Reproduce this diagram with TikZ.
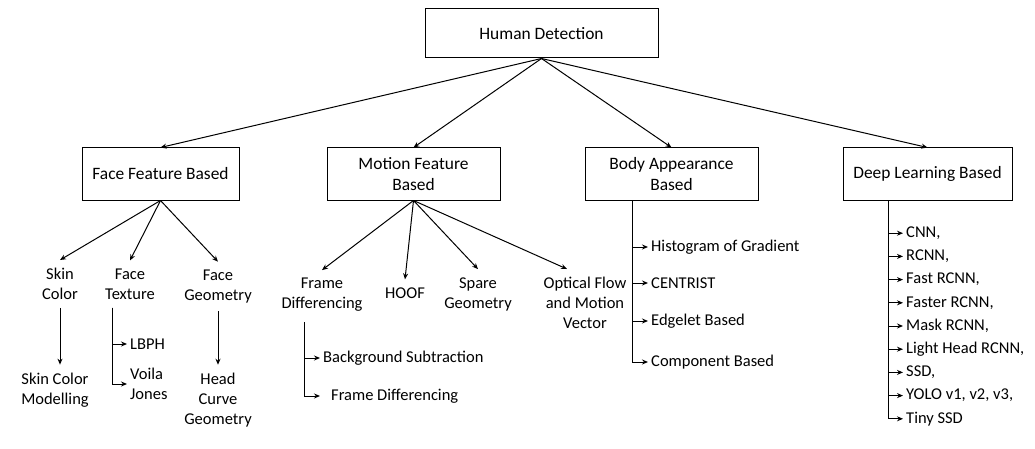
\documentclass[tikz,border=0pt]{standalone}
\usepackage{fontspec}
\setmainfont{Carlito}
\usetikzlibrary{arrows.meta}
\newcommand{\labsize}{\fontsize{16.5pt}{20pt}\selectfont}
\newcommand{\boxsize}{\fontsize{17.4pt}{21pt}\selectfont}
\tikzset{
  box/.style={draw=black, line width=1pt, align=center, font=\boxsize, minimum height=52pt, inner sep=2pt},
  leaf/.style={align=center, font=\labsize, inner xsep=3pt, inner ysep=8pt},
  item/.style={anchor=west, align=left, font=\labsize, inner sep=3pt},
  link/.style={draw=black, line width=1pt, -{Stealth[length=6pt,width=5pt]}},
}

\begin{document}
\begin{tikzpicture}[x=1pt,y=-1pt]
  \useasboundingbox (0,0) rectangle (1035,449);
  % root and the four families
  \node[box, minimum width=233pt, minimum height=49pt] (hd) at (541.5,33.5) {Human Detection};
  \node[box, minimum width=157pt] (face) at (160.5,174) {Face Feature Based};
  \node[box, minimum width=173pt] (motion) at (413.5,174) {Motion Feature\\Based};
  \node[box, minimum width=173pt] (body) at (671.5,174) {Body Appearance\\Based};
  \node[box, minimum width=169pt] (deep) at (927.5,174) {Deep Learning Based};
  \foreach \X in {face,motion,body,deep}
    \draw[link] (hd.south) -- (\X.north);

  % face feature based
  \node[leaf] (skin) at (60,284) {Skin\\Color};
  \node[leaf] (texture) at (130,284) {Face\\Texture};
  \node[leaf] (fgeo) at (218,286.5) {Face\\Geometry};
  \foreach \X in {skin,texture,fgeo}
    \draw[link] (face.south) -- (\X.north);
  \node[leaf] (skinmod) at (55,390) {Skin Color\\Modelling};
  \draw[link] (skin.south) -- (skin.south |- skinmod.north);
  \node[leaf] (head) at (218,400) {Head\\Curve\\Geometry};
  \draw[link] (fgeo.south) -- (fgeo.south |- head.north);
  \coordinate (texdrop) at ([xshift=-18pt]texture.south);
  \node[item] (lbph) at (127,344) {LBPH};
  \node[item] (voila) at (127,384) {Voila\\Jones};
  \foreach \X in {lbph,voila}
    \draw[link] (texdrop) |- (\X.west);

  % motion feature based
  \node[leaf] (framediff) at (322,295) {Frame\\Differencing};
  \node[leaf] (hoof) at (405,293) {HOOF};
  \node[leaf] (spare) at (478,294) {Spare\\Geometry};
  \node[leaf] (optical) at (585,303) {Optical Flow\\and Motion\\Vector};
  \foreach \X in {framediff,hoof,spare}
    \draw[link] (motion.south) -- (\X.north);
  \draw[link] (motion.south) -- ([xshift=-18pt]optical.north);
  \coordinate (fddrop) at (304,322);
  \node[item] (bgsub) at (320,358) {Background Subtraction};
  \node[item, inner xsep=11pt] (fdiff) at (320,396) {Frame Differencing};
  \foreach \X in {bgsub,fdiff}
    \draw[link] (fddrop) |- (\X.west);

  % body appearance based
  \coordinate (bodydrop) at ([xshift=-39pt]body.south);
  \foreach \Y/\name/\txt in {247/hog/Histogram of Gradient, 283/centrist/CENTRIST,
      321/edgelet/Edgelet Based, 362/component/Component Based} {
    \node[item] (\name) at (648,\Y) {\txt};
    \draw[link] (bodydrop) |- (\name.west);
  }

  % deep learning based
  \coordinate (deepdrop) at ([xshift=-39pt]deep.south);
  \foreach \txt [count=\i] in {{CNN,},{RCNN,},{Fast RCNN,},{Faster RCNN,},{Mask RCNN,},
      {Light Head RCNN,},{SSD,},{YOLO v1, v2, v3,},{Tiny SSD}} {
    \node[item] (dl\i) at (903,{210+23.2*\i}) {\txt};
    \draw[link] (deepdrop) |- (dl\i.west);
  }
\end{tikzpicture}
\end{document}
